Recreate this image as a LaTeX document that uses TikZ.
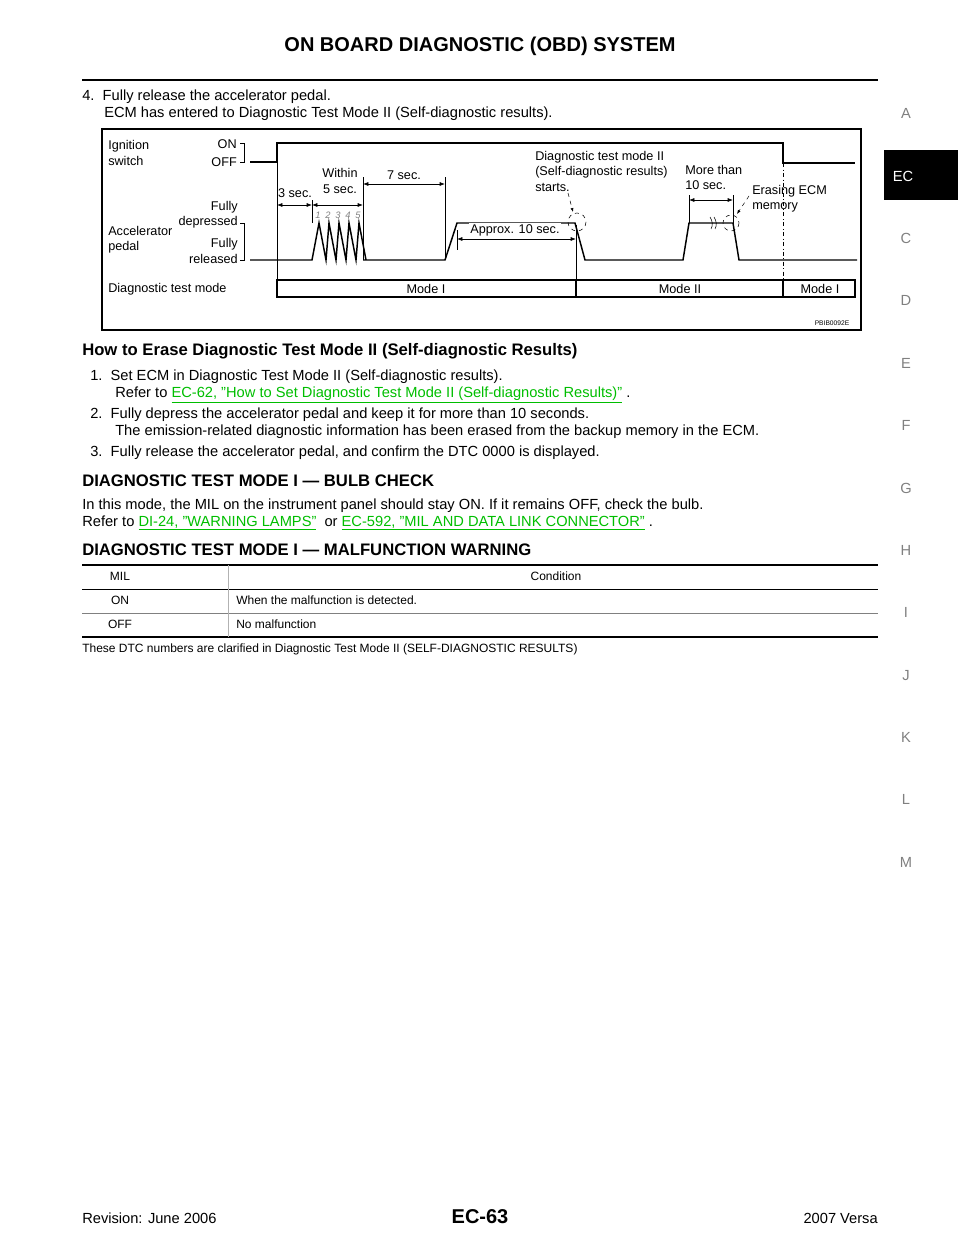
\documentclass[tikz,border=0pt]{standalone}
\usepackage{fontspec}
\setmainfont{Liberation Sans}
\usetikzlibrary{positioning,arrows.meta}
\definecolor{linkgreen}{RGB}{0,190,0}
\newcommand{\lnk}[1]{\textcolor{linkgreen}{\underline{#1}}}
\newcommand{\q}{\symbol{34}}
\tikzset{
  body/.style={anchor=base west,inner sep=0pt,font=\fontsize{11}{13}\selectfont},
  small/.style={anchor=base west,inner sep=0pt,font=\fontsize{9}{11}\selectfont},
  lbl/.style={inner sep=0pt,align=left,font=\fontsize{9.5}{11.5}\selectfont},
  tab/.style={anchor=base,inner sep=0pt,font=\fontsize{11}{13}\selectfont,text=gray},
  sig/.style={line width=1.1pt},
  dim/.style={{Latex[length=4pt]}-{Latex[length=4pt]},line width=0.5pt},
  guide/.style={line width=0.4pt}
}
\begin{document}
\begin{tikzpicture}[x=0.75pt,y=-0.75pt]
\useasboundingbox (0,0) rectangle (960,1242);
% header %
\node[anchor=base,inner sep=0pt,font=\fontsize{15}{17}\selectfont\bfseries] (title) at (480,51) {ON BOARD DIAGNOSTIC (OBD) SYSTEM};
\draw[line width=1.2pt] (82,80) -- (878,80);
% side tabs %
\fill (884,150) rectangle (958,200);
\node[tab,text=white] (tEC) at (903,181) {EC};
\foreach \l/\y in {A/118,C/243,D/305,E/368,F/430,G/493,H/555,I/617,J/680,K/742,L/804,M/867}
  \node[tab] (t\l) at (906,\y) {\l};
% text %
\node[body] (s4) at (82,100) {4.\ \ Fully release the accelerator pedal.};
\node[body] (s4b) at (104,117) {ECM has entered to Diagnostic Test Mode II (Self-diagnostic results).};
% diagram %
\draw[line width=0.8pt] (102,129) rectangle (861,330);
\draw[sig] (250,162) -- (277,162) -- (277,143) -- (783,143) -- (783,163) -- (855,163);
\draw[sig] (250,260) -- (312,260)
  \foreach \i in {0,...,4} {-- ({319+10*\i},223) -- ({326+10*\i},260)} -- (363,260)
  -- (445,260) -- (457,223) -- (575,223) -- (585,260) -- (683,260) -- (689,223)
  -- (733,223) -- (739,260) -- (857,260);
\draw[guide] (240,143) -- (244,143) -- (244,162) -- (240,162);
\draw[guide] (240,223) -- (244,223) -- (244,260) -- (240,260);
\draw[guide] (277,143) -- (277,280);
\draw[guide] (312,200) -- (312,223);
\draw[guide] (363,177) -- (363,260);
\draw[guide] (445,177) -- (445,260);
\draw[guide] (457,230) -- (457,250);
\draw[guide] (576,225) -- (576,297);
\draw[guide] (689,195) -- (689,223);
\draw[guide] (733,195) -- (733,223);
\draw[guide,dash dot] (783,163) -- (783,280);
\draw[dim] (277,205) -- (312,205);
\draw[dim] (312,205) -- (363,205);
\draw[dim] (363,184) -- (445,184);
\draw[dim] (457,239) -- (576,239);
\draw[dim] (689,200) -- (733,200);
\draw[line width=0.8pt] (277,280) rectangle (855,297);
\draw[line width=0.8pt] (576,280) -- (576,297) (783,280) -- (783,297);
\draw[guide,dashed] (577,222) circle (9);
\draw[guide,dashed] (731,223) circle (8);
\draw[guide] (710,217) to[out=-60,in=60] (711,229);
\draw[guide] (714,217) to[out=-60,in=60] (715,229);
\draw[guide,dashed,-{Latex[length=3pt]}] (568,193) -- (573,212);
\draw[guide,dashed,-{Latex[length=3pt]}] (749,196) -- (737,214);
\node[lbl,anchor=west] (ign) at (108,153) {Ignition\\switch};
\node[lbl,anchor=east] (on) at (237,144) {ON};
\node[lbl,anchor=east] (off) at (237,162) {OFF};
\node[lbl,anchor=west] (acc) at (108,240) {Accelerator\\pedal};
\node[lbl,anchor=east,align=right] (dep) at (238,215) {Fully\\depressed};
\node[lbl,anchor=east,align=right] (rel) at (238,251) {Fully\\released};
\node[lbl,anchor=west] (dtm) at (108,289) {Diagnostic test mode};
\node[lbl] (three) at (295,193) {3 sec.};
\node[lbl,align=center] (within) at (340,181) {Within\\5 sec.};
\node[lbl] (seven) at (404,175) {7 sec.};
\node[lbl,fill=white,inner sep=1pt] (approx) at (515,230) {Approx. 10 sec.};
\node[lbl,anchor=north west] (starts) at (535,151) {Diagnostic test mode II\\(Self-diagnostic results)\\starts.};
\node[lbl,anchor=north west] (more) at (685,165) {More than\\10 sec.};
\node[lbl,anchor=north west] (erase) at (752,185) {Erasing ECM\\memory};
\foreach \i in {1,...,5}
  \node[lbl,font=\fontsize{7}{8}\selectfont\itshape,text=gray] (n\i) at ({318+10*\i-10},215) {\i};
\node[lbl] (m1) at (426,289) {Mode I};
\node[lbl] (m2) at (680,289) {Mode II};
\node[lbl] (m3) at (820,289) {Mode I};
\node[lbl,font=\fontsize{5}{6}\selectfont] (code) at (832,323) {PBIB0092E};
% erase section %
\node[anchor=base west,inner sep=0pt,font=\fontsize{12.5}{14}\selectfont\bfseries] (h1) at (82,355) {How to Erase Diagnostic Test Mode II (Self-diagnostic Results)};
\node[body] (e1) at (90,380) {1.\ \ Set ECM in Diagnostic Test Mode II (Self-diagnostic results).};
\node[body] (e1b) at (115,397) {Refer to \lnk{EC-62, \q How to Set Diagnostic Test Mode II (Self-diagnostic Results)\q} .};
\node[body] (e2) at (90,418) {2.\ \ Fully depress the accelerator pedal and keep it for more than 10 seconds.};
\node[body] (e2b) at (115,435) {The emission-related diagnostic information has been erased from the backup memory in the ECM.};
\node[body] (e3) at (90,456) {3.\ \ Fully release the accelerator pedal, and confirm the DTC 0000 is displayed.};
\node[anchor=base west,inner sep=0pt,font=\fontsize{12.5}{14}\selectfont\bfseries] (h2) at (82,486) {DIAGNOSTIC TEST MODE I — BULB CHECK};
\node[body] (b1) at (82,509) {In this mode, the MIL on the instrument panel should stay ON. If it remains OFF, check the bulb.};
\node[body] (b2) at (82,526) {Refer to \lnk{DI-24, \q WARNING LAMPS\q}\ \ or \lnk{EC-592, \q MIL AND DATA LINK CONNECTOR\q} .};
\node[anchor=base west,inner sep=0pt,font=\fontsize{12.5}{14}\selectfont\bfseries] (h3) at (82,555) {DIAGNOSTIC TEST MODE I — MALFUNCTION WARNING};
% table %
\draw[line width=1.2pt] (82,565) -- (878,565);
\draw[line width=0.5pt] (82,589) -- (878,589);
\draw[line width=0.3pt,gray] (82,613) -- (878,613);
\draw[line width=1.2pt] (82,637) -- (878,637);
\draw[line width=0.3pt,gray!60] (228,565) -- (228,637);
\node[small,anchor=base] (mil) at (120,580) {MIL};
\node[small,anchor=base] (cond) at (556,580) {Condition};
\node[small,anchor=base] (on1) at (120,604) {ON};
\node[small] (on2) at (236,604) {When the malfunction is detected.};
\node[small,anchor=base] (off1) at (120,628) {OFF};
\node[small] (off2) at (236,628) {No malfunction};
\node[small] (note) at (82,652) {These DTC numbers are clarified in Diagnostic Test Mode II (SELF-DIAGNOSTIC RESULTS)};
% footer %
\node[body] (rev) at (82,1223) {Revision: June 2006};
\node[anchor=base,inner sep=0pt,font=\fontsize{15}{17}\selectfont\bfseries] (pg) at (480,1223) {EC-63};
\node[body,anchor=base east] (ver) at (878,1223) {2007 Versa};
\end{tikzpicture}
\end{document}
